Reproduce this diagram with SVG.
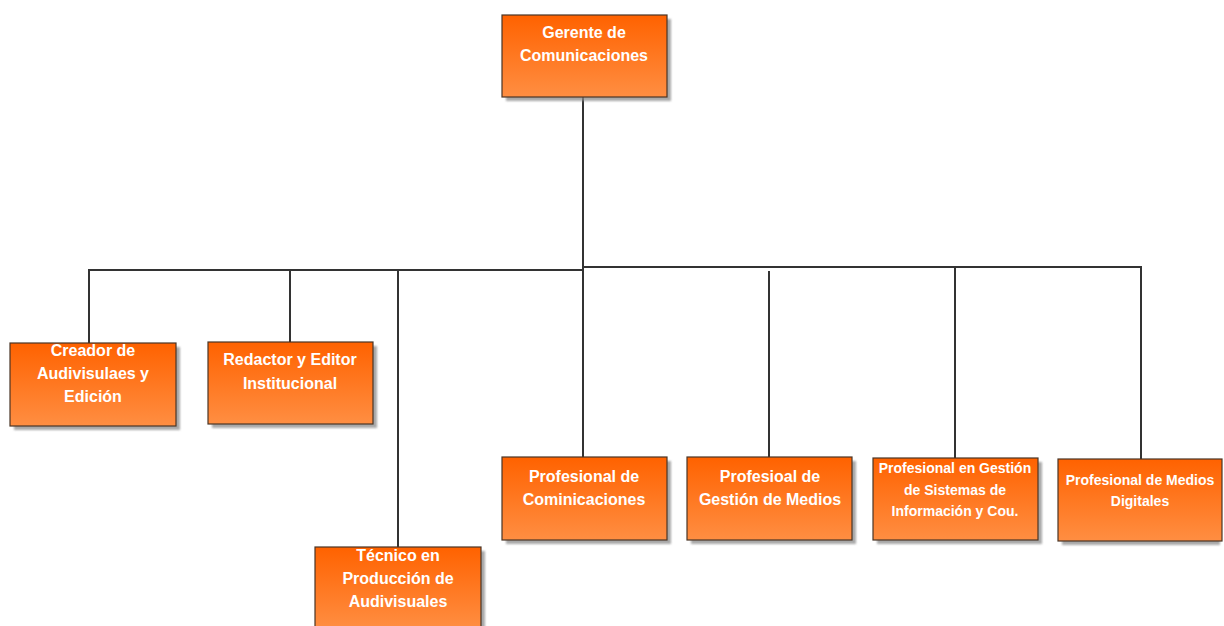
<svg xmlns="http://www.w3.org/2000/svg" width="1224" height="626" viewBox="0 0 1224 626">
<defs>
<linearGradient id="og" x1="0" y1="0" x2="0" y2="1">
<stop offset="0" stop-color="#FF6200"/>
<stop offset="1" stop-color="#FF8E42"/>
</linearGradient>
<filter id="sh" x="-10%" y="-10%" width="130%" height="130%">
<feGaussianBlur stdDeviation="1.2"/>
</filter>
</defs>
<style>
.sh{fill:#8c8c8c;opacity:0.75;filter:url(#sh)}
.bx{fill:url(#og);stroke:#4a3526;stroke-width:1.2}
.t{font-family:"Liberation Sans",Arial,sans-serif;font-weight:bold;font-size:16px;fill:#ffffff;text-anchor:middle}
.s{font-size:14px}
.c{stroke:#333333;stroke-width:2;fill:none}
</style>
<rect width="1224" height="626" fill="#ffffff"/>
<g id="connectors">
<line class="c" x1="583" y1="97" x2="583" y2="457"/>
<line class="c" x1="88" y1="270" x2="583" y2="270"/>
<line class="c" x1="583" y1="267" x2="1142" y2="267"/>
<line class="c" x1="89" y1="269" x2="89" y2="343"/>
<line class="c" x1="290" y1="270" x2="290" y2="342"/>
<line class="c" x1="398" y1="270" x2="398" y2="547"/>
<line class="c" x1="769" y1="271" x2="769" y2="457"/>
<line class="c" x1="955" y1="267" x2="955" y2="458"/>
<line class="c" x1="1141" y1="266" x2="1141" y2="459"/>
</g>
<g id="n-gerente">
<rect class="sh" x="506" y="19" width="165" height="82"/>
<rect class="bx" x="502" y="15" width="165" height="82"/>
<text class="t" x="584" y="38">Gerente de</text>
<text class="t" x="584" y="61">Comunicaciones</text>
</g>
<g id="n-creador">
<rect class="sh" x="14" y="347" width="166" height="83"/>
<rect class="bx" x="10" y="343" width="166" height="83"/>
<text class="t" x="93" y="356">Creador de</text>
<text class="t" x="93" y="379">Audivisulaes y</text>
<text class="t" x="93" y="402">Edición</text>
</g>
<g id="n-redactor">
<rect class="sh" x="212" y="346" width="165" height="82"/>
<rect class="bx" x="208" y="342" width="165" height="82"/>
<text class="t" x="290" y="365">Redactor y Editor</text>
<text class="t" x="290" y="389">Institucional</text>
</g>
<g id="n-tecnico">
<rect class="sh" x="319" y="551" width="166" height="82"/>
<rect class="bx" x="315" y="547" width="166" height="82"/>
<text class="t" x="398" y="561">Técnico en</text>
<text class="t" x="398" y="584">Producción de</text>
<text class="t" x="398" y="607">Audivisuales</text>
</g>
<g id="n-comin">
<rect class="sh" x="506" y="461" width="165" height="83"/>
<rect class="bx" x="502" y="457" width="165" height="83"/>
<text class="t" x="584" y="482">Profesional de</text>
<text class="t" x="584" y="505">Cominicaciones</text>
</g>
<g id="n-medios">
<rect class="sh" x="691" y="461" width="165" height="83"/>
<rect class="bx" x="687" y="457" width="165" height="83"/>
<text class="t" x="770" y="482">Profesioal de</text>
<text class="t" x="770" y="505">Gestión de Medios</text>
</g>
<g id="n-sistemas">
<rect class="sh" x="877" y="462" width="165" height="82"/>
<rect class="bx" x="873" y="458" width="165" height="82"/>
<text class="t s" x="955" y="473">Profesional en Gestión</text>
<text class="t s" x="955" y="495">de Sistemas de</text>
<text class="t s" x="955" y="516">Información y Cou.</text>
</g>
<g id="n-digitales">
<rect class="sh" x="1062" y="463" width="158" height="82"/>
<rect class="bx" x="1058" y="459" width="164" height="82"/>
<text class="t s" x="1140" y="485">Profesional de Medios</text>
<text class="t s" x="1140" y="506">Digitales</text>
</g>
</svg>
